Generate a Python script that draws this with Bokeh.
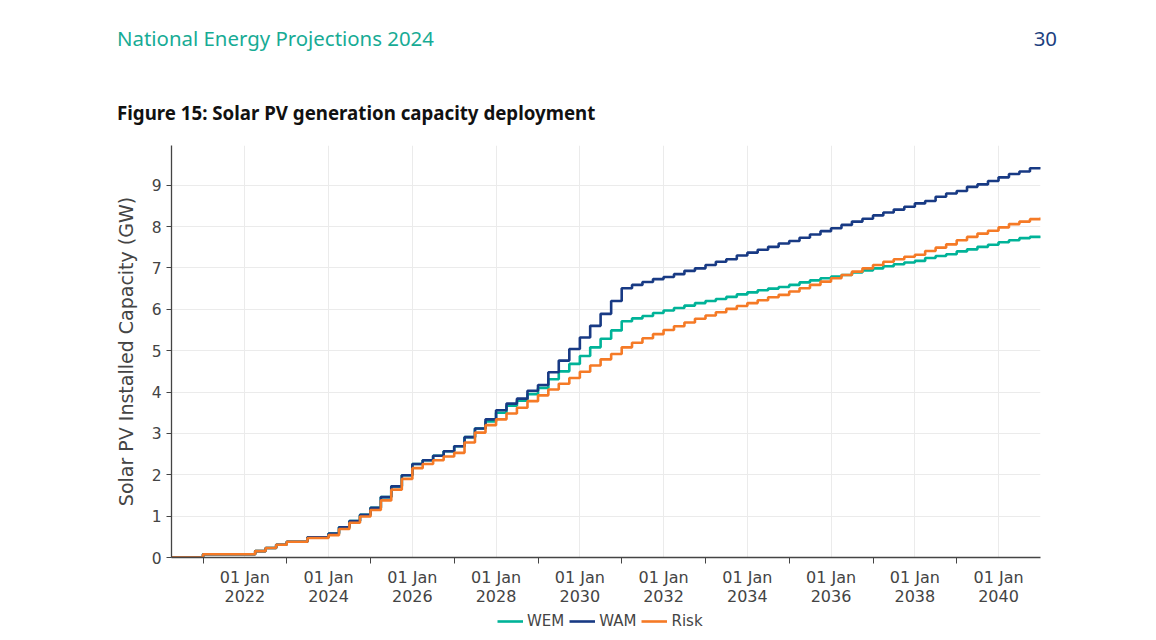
import pandas as pd
from bokeh.plotting import figure
from bokeh.layouts import column
from bokeh.models import FixedTicker, Legend, LegendItem, Range1d, ColumnDataSource, Div
from bokeh.embed import file_html
from bokeh.resources import INLINE

# ---------------- data ----------------
dates = pd.date_range("2020-04-01", "2041-01-01", freq="QS")  # quarterly, 84 points

wem = [0, 0, 0, 0.08, 0.08, 0.08, 0.08, 0.08,
       0.155, 0.23, 0.31, 0.38, 0.38, 0.49, 0.49, 0.58,
       0.73, 0.88, 1.03, 1.20, 1.46, 1.72, 1.99, 2.26,
       2.35, 2.46, 2.57, 2.69, 2.91, 3.12, 3.29, 3.50,
       3.67, 3.79, 3.95, 4.10, 4.31, 4.50, 4.68, 4.87,
       5.08, 5.29, 5.49, 5.71, 5.78, 5.84, 5.91, 5.97,
       6.03, 6.09, 6.15, 6.20, 6.25, 6.30, 6.36, 6.41,
       6.46, 6.50, 6.54, 6.59, 6.65, 6.70, 6.75, 6.79,
       6.83, 6.89, 6.94, 6.99, 7.04, 7.09, 7.13, 7.17,
       7.24, 7.29, 7.33, 7.40, 7.45, 7.51, 7.56, 7.62,
       7.67, 7.72, 7.75, 7.78]

wam = [0, 0, 0, 0.08, 0.08, 0.08, 0.08, 0.08,
       0.155, 0.23, 0.31, 0.38, 0.38, 0.49, 0.49, 0.58,
       0.73, 0.88, 1.03, 1.20, 1.46, 1.72, 1.99, 2.26,
       2.35, 2.46, 2.57, 2.69, 2.91, 3.12, 3.34, 3.56,
       3.72, 3.84, 4.03, 4.17, 4.48, 4.76, 5.04, 5.32,
       5.60, 5.89, 6.20, 6.51, 6.59, 6.66, 6.73, 6.78,
       6.85, 6.93, 6.99, 7.07, 7.15, 7.21, 7.30, 7.37,
       7.44, 7.51, 7.59, 7.65, 7.73, 7.81, 7.89, 7.96,
       8.04, 8.12, 8.19, 8.27, 8.34, 8.41, 8.48, 8.56,
       8.62, 8.72, 8.80, 8.86, 8.96, 9.02, 9.10, 9.19,
       9.27, 9.33, 9.41, 9.44]

risk = [0, 0, 0, 0.08, 0.08, 0.08, 0.08, 0.08,
        0.155, 0.23, 0.31, 0.38, 0.38, 0.47, 0.47, 0.54,
        0.69, 0.84, 0.99, 1.15, 1.38, 1.64, 1.90, 2.16,
        2.26, 2.35, 2.44, 2.53, 2.78, 3.02, 3.20, 3.34,
        3.48, 3.62, 3.78, 3.92, 4.06, 4.20, 4.34, 4.49,
        4.64, 4.79, 4.92, 5.08, 5.19, 5.30, 5.40, 5.50,
        5.59, 5.68, 5.77, 5.85, 5.93, 6.01, 6.08, 6.15,
        6.22, 6.29, 6.35, 6.43, 6.51, 6.59, 6.67, 6.75,
        6.83, 6.91, 6.99, 7.07, 7.15, 7.21, 7.27, 7.32,
        7.41, 7.49, 7.57, 7.67, 7.75, 7.83, 7.90, 7.98,
        8.06, 8.12, 8.18, 8.22]

series_names = ["WEM", "WAM", "Risk"]
series_colors = ["#00b398", "#183a84", "#f57a26"]
label_years = [2022, 2024, 2026, 2028, 2030, 2032, 2034, 2036, 2038, 2040]
tick_years = [2021, 2023, 2025, 2027, 2029, 2031, 2033, 2035, 2037, 2039]
y_ticks = [0, 1, 2, 3, 4, 5, 6, 7, 8, 9]

header_text = "National Energy Projections 2024"
page_number = "30"
figure_title = "Figure 15: Solar PV generation capacity deployment"
y_title = "Solar PV Installed Capacity (GW)"

# ---------------- header ----------------
header_html = f"""
<div style="position:relative;width:1156px;height:145px;margin:0;padding:0;font-family:'Noto Sans',sans-serif;">
  <span style="position:absolute;left:117px;top:24px;font-size:20.4px;line-height:28px;color:#17ab95;white-space:nowrap;">{header_text}</span>
  <span style="position:absolute;right:99px;top:24px;font-size:20.4px;line-height:28px;color:#1c3f7f;white-space:nowrap;">{page_number}</span>
  <span style="position:absolute;left:117px;top:100px;font-size:18.7px;line-height:26px;font-weight:bold;color:#111111;white-space:nowrap;">{figure_title}</span>
</div>
"""
header = Div(text=header_html, width=1156, height=145, margin=(0, 0, 0, 0))

# ---------------- main figure ----------------
def ms(ts):
    return int(pd.Timestamp(ts).value // 10**6)

source = ColumnDataSource(dict(date=dates, WEM=wem, WAM=wam, Risk=risk))

p = figure(frame_width=869, frame_height=412, x_axis_type="datetime",
           x_range=Range1d(dates[0], dates[-1]), y_range=Range1d(0, 9.96),
           output_backend="svg", toolbar_location=None,
           min_border_left=171, min_border_right=116,
           min_border_top=0, min_border_bottom=55)
p.outline_line_color = None
p.background_fill_color = "white"

for name, col in zip(series_names, series_colors):
    p.step(x="date", y=name, source=source, mode="after",
           line_color=col, line_width=2.6)

# x axis
xa = p.xaxis[0]
xa.ticker = FixedTicker(ticks=[ms(f"{y}-01-01") for y in label_years],
                        minor_ticks=[ms(f"{y}-01-01") for y in tick_years])
xa.major_label_overrides = {ms(f"{y}-01-01"): f"01 Jan\n{y}" for y in label_years}
xa.major_tick_line_color = None
xa.major_tick_out = 0
xa.major_tick_in = 0
xa.minor_tick_line_color = "#444444"
xa.minor_tick_out = 6
xa.minor_tick_in = 0
xa.axis_line_color = "#444444"
xa.axis_line_width = 1.3
xa.major_label_text_font = "DejaVu Sans"
xa.major_label_text_font_size = "16px"
xa.major_label_text_color = "#444444"
xa.major_label_text_line_height = 1.05
xa.major_label_standoff = 4

# y axis
ya = p.yaxis[0]
ya.ticker = FixedTicker(ticks=y_ticks)
ya.minor_tick_line_color = None
ya.major_tick_out = 5
ya.major_tick_in = 0
ya.major_tick_line_color = "#444444"
ya.axis_line_color = "#444444"
ya.axis_line_width = 1.3
ya.major_label_text_font = "DejaVu Sans"
ya.major_label_text_font_size = "15.5px"
ya.major_label_text_color = "#444444"
ya.major_label_standoff = 5
ya.axis_label = y_title
ya.axis_label_text_font = "DejaVu Sans"
ya.axis_label_text_font_size = "19px"
ya.axis_label_text_font_style = "normal"
ya.axis_label_text_color = "#444444"
ya.axis_label_standoff = 12

p.xgrid.grid_line_color = "#ebebeb"
p.ygrid.grid_line_color = "#ebebeb"

# ---------------- legend strip ----------------
lg = figure(width=1156, height=28, x_range=Range1d(0, 1), y_range=Range1d(0, 1),
            output_backend="svg", toolbar_location=None,
            x_axis_location=None, y_axis_location=None, min_border=0)
lg.outline_line_color = None
lg.xgrid.visible = False
lg.ygrid.visible = False
nan = float("nan")
key_renderers = [lg.line(x=[nan], y=[nan], line_color=c, line_width=2.6) for c in series_colors]
legend = Legend(items=[LegendItem(label=n, renderers=[r]) for n, r in zip(series_names, key_renderers)],
                location=(326, 10), orientation="horizontal",
                padding=0, margin=0, spacing=5, label_standoff=4,
                glyph_width=26, glyph_height=16,
                border_line_color=None, background_fill_alpha=0,
                label_text_font="DejaVu Sans", label_text_font_size="15px",
                label_text_color="#444444")
lg.add_layout(legend)

layout = column(header, p, lg, spacing=0)
open("out.html", "w").write(file_html(layout, INLINE))
